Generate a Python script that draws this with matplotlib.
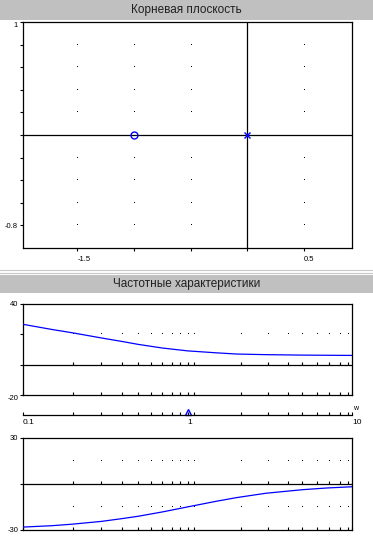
import numpy as np
import matplotlib
matplotlib.use("Agg")
import matplotlib.pyplot as plt
from matplotlib.patches import Rectangle
from matplotlib.lines import Line2D
from matplotlib.ticker import NullFormatter

plt.rcParams['font.family'] = ['Liberation Sans', 'DejaVu Sans']

# root locus
zeros_re = [-1.0]
zeros_im = [0.0]
poles_re = [0.0]
poles_im = [0.0]
rl_grid_x = [-1.5, -1.0, -0.5, 0.5]
rl_grid_y = [0.8, 0.6, 0.4, 0.2, -0.2, -0.4, -0.6, -0.8]

# frequency response
w = [0.1, 0.15, 0.2, 0.3, 0.4, 0.5, 0.7, 1.0, 1.5, 2.0, 3.0, 5.0, 7.0, 10.0]
mag_db = [26.6, 23.2, 21.0, 17.6, 15.3, 13.4, 11.0, 9.1, 7.8, 7.0, 6.6, 6.3, 6.2, 6.1]
phase = [-28.1, -27.2, -26.2, -24.4, -22.6, -21.1, -18.3, -15.0, -11.3, -8.9, -6.1, -3.8, -2.7, -1.9]
# grid/tick positions as drawn in the original
w_grid = [0.2, 0.3, 0.4, 0.5, 0.6, 0.7, 0.8, 0.9, 1.0, 1.09, 2.1, 3.1, 4.1, 5.0, 6.1, 7.2, 8.4, 9.4]
w_marker = 1.0

W, H = 373, 545
fig = plt.figure(figsize=(W / 100, H / 100), dpi=100)

def box(x0, y0, x1, y1):
    return [x0 / W, 1 - y1 / H, (x1 - x0) / W, (y1 - y0) / H]

def band(y0, y1, text):
    fig.add_artist(Rectangle((0, 1 - y1 / H), 1, (y1 - y0) / H,
                             transform=fig.transFigure, color='#c0c0c0', lw=0))
    fig.text(0.5, 1 - (y0 + y1) / 2 / H, text, ha='center', va='center',
             fontsize=8.5, color='#202020')

band(0, 19.5, 'Корневая плоскость')
for yy in (270, 272.5):
    fig.add_artist(Line2D([0, 1], [1 - yy / H] * 2, transform=fig.transFigure,
                          color='#c8c8c8', lw=0.8))
band(275, 292.5, 'Частотные характеристики')

tick_font = 5.5

def style(ax):
    for s in ax.spines.values():
        s.set_linewidth(0.9)
    ax.tick_params(labelsize=tick_font, length=2, width=0.8, pad=1.5)

def dots(ax, xs, ys):
    gx, gy = np.meshgrid(xs, ys)
    ax.plot(gx.ravel(), gy.ravel(), ',', color='black', zorder=1)

# ---- root locus
ax = fig.add_axes(box(23, 22, 352, 248))
style(ax)
ax.set_xlim(-1.98, 0.924)
ax.set_ylim(-1.0, 1.0)
ax.axhline(0, color='black', lw=0.9)
ax.axvline(0, color='black', lw=0.9)
dots(ax, rl_grid_x, rl_grid_y)
ax.plot(zeros_re, zeros_im, 'o', mfc='none', mec='#0000ff', ms=5, mew=1)
ax.plot(poles_re, poles_im, 'x', color='#0000ff', ms=5, mew=1)
ax.set_xticks([-1.5, -1.0, -0.5, 0.0, 0.5], ['-1.5', '', '', '', '0.5'])
for lab in ax.get_xticklabels():
    lab.set_ha('left')
ax.tick_params(axis='x', pad=4)
ax.set_yticks([1.0, 0.8, 0.6, 0.4, 0.2, 0.0, -0.2, -0.4, -0.6, -0.8],
              ['1', '', '', '', '', '', '', '', '', '-0.8'])
ax.get_yticklabels()[0].set_va('top')

def bode(ax, ylim, yticks, ylabels, grid_rows, xs, ys):
    style(ax)
    ax.set_xscale('log')
    ax.set_xlim(0.1, 10)
    ax.set_ylim(*ylim)
    ax.axhline(0, color='black', lw=0.9)
    dots(ax, w_grid, grid_rows)
    ax.plot(w_grid, [0] * len(w_grid), ls='none', marker=2, ms=2, mew=0.8, color='black')
    ax.plot(xs, ys, color='#0000ff', lw=0.9, zorder=3)
    ax.set_xticks([0.1, 1, 10], ['', '', ''])
    ax.set_xticks(w_grid, minor=True)
    ax.xaxis.set_minor_formatter(NullFormatter())
    ax.tick_params(axis='x', which='both', direction='in', length=2, width=0.8)
    ax.set_yticks(yticks, ylabels)

ax_m = fig.add_axes(box(23, 304, 352, 395))
bode(ax_m, (-20, 40), [40, 20, 0, -20], ['40', '', '', '-20'], [20], w, mag_db)
ax_m.get_yticklabels()[3].set_va('top')

ax_p = fig.add_axes(box(23, 437.7, 352, 530))
bode(ax_p, (-30, 30), [30, 0, -30], ['30', '', '-30'], [15, -15], w, phase)

# frequency axis
ax_w = fig.add_axes(box(23, 405, 352, 415))
ax_w.set_xscale('log')
ax_w.set_xlim(0.1, 10)
ax_w.set_ylim(0, 1)
for k in ('left', 'right', 'top'):
    ax_w.spines[k].set_visible(False)
ax_w.spines['bottom'].set_linewidth(0.9)
ax_w.set_yticks([])
ax_w.set_xticks([0.1, 1, 10], ['0.1', '1', '10'])
ax_w.set_xticks(w_grid, minor=True)
ax_w.xaxis.set_minor_formatter(NullFormatter())
ax_w.tick_params(axis='x', which='both', direction='in', length=2.5, width=0.8,
                 labelsize=tick_font + 0.5, pad=3)
for lab in ax_w.get_xticklabels():
    lab.set_ha('left')
ax_w.patch.set_alpha(0)
ax_w.plot([w_marker], [0.35], marker='^', ms=5, mfc='none', mec='#0000ff', mew=1,
          clip_on=False)
fig.text(356 / W, 1 - 409 / H, 'w', fontsize=5, ha='center', va='center')

fig.savefig('out.png', dpi=100)
